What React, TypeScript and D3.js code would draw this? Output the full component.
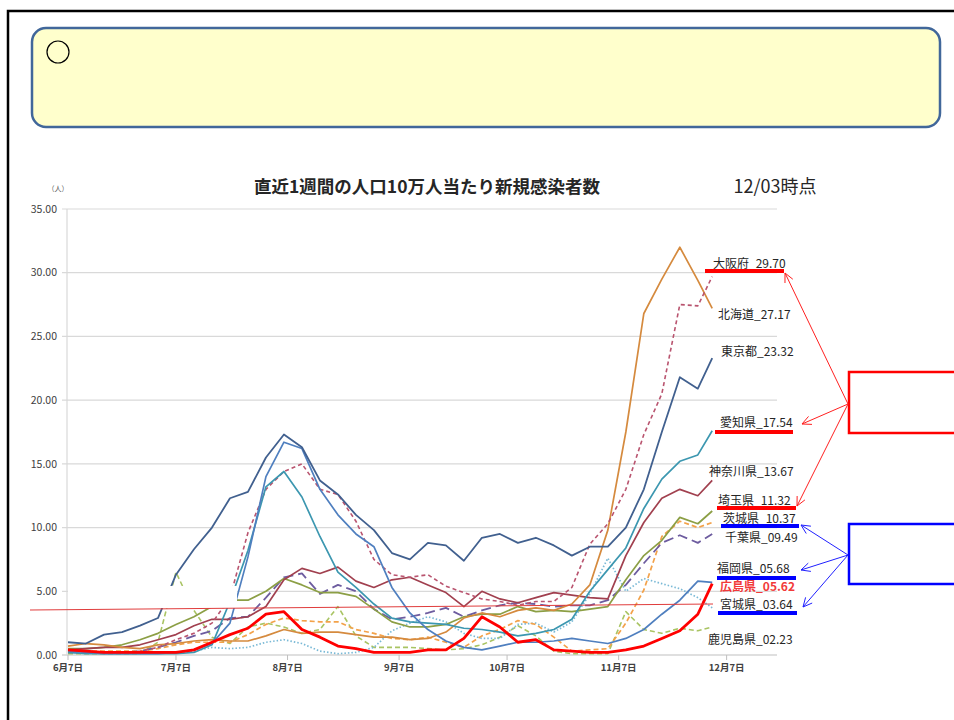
import React from 'react';
import * as d3 from 'd3';

// days counted from 6/7, one sample every 5 days up to 12/3
const days = [0, 5, 10, 15, 20, 25, 30, 35, 40, 45, 50, 55, 60, 65, 70, 75, 80, 85, 90, 95, 100, 105, 110, 115, 120, 125, 130, 135, 140, 145, 150, 155, 160, 165, 170, 175, 179];

const tokyo = [1.0, 0.9, 1.6, 1.8, 2.3, 2.9, 6.3, 8.3, 10.0, 12.3, 12.8, 15.5, 17.3, 16.3, 13.7, 12.6, 11.0, 9.8, 8.0, 7.5, 8.8, 8.6, 7.4, 9.2, 9.5, 8.8, 9.2, 8.6, 7.8, 8.5, 8.5, 10.0, 13.0, 17.5, 21.8, 20.9, 23.3];
const kanagawa = [0.4, 0.5, 0.6, 0.6, 0.8, 1.2, 1.6, 2.3, 2.8, 2.8, 3.0, 3.8, 5.9, 6.8, 6.4, 6.9, 5.8, 5.3, 5.9, 6.1, 5.5, 4.9, 3.8, 5.0, 4.4, 4.1, 4.5, 4.9, 4.7, 4.5, 4.4, 7.8, 10.4, 12.3, 13.0, 12.5, 13.7];
const saitama = [0.5, 0.5, 0.6, 0.8, 1.2, 1.7, 2.4, 3.0, 3.8, 4.3, 4.3, 5.0, 6.0, 5.5, 4.9, 4.9, 4.6, 3.6, 2.6, 2.2, 2.2, 2.4, 3.0, 3.2, 3.2, 3.8, 3.4, 3.5, 3.4, 3.6, 3.8, 5.9, 7.8, 9.0, 10.8, 10.3, 11.3];
const chiba = [0.2, 0.2, 0.2, 0.2, 0.3, 0.6, 1.0, 1.5, 1.9, 2.9, 3.0, 4.5, 6.1, 6.4, 4.8, 5.5, 5.0, 3.6, 2.8, 3.0, 3.3, 3.7, 3.0, 3.5, 3.9, 4.1, 4.0, 3.8, 3.9, 3.9, 4.3, 5.5, 7.2, 8.8, 9.4, 8.8, 9.5];
const ibaraki = [0.3, 0.3, 0.3, 0.3, 0.3, 0.5, 0.8, 1.0, 1.0, 1.0, 1.6, 2.4, 2.9, 2.7, 2.6, 2.6, 2.0, 1.7, 1.3, 1.2, 1.4, 1.0, 0.6, 1.5, 2.0, 2.7, 2.4, 1.4, 0.3, 0.4, 0.5, 2.5, 5.1, 9.3, 10.5, 10.0, 10.4];
const hokkaido = [0.7, 0.9, 0.8, 0.6, 0.5, 0.8, 0.9, 1.1, 1.2, 1.1, 1.1, 1.5, 2.0, 1.7, 1.8, 1.8, 1.6, 1.4, 1.4, 1.2, 1.3, 1.8, 2.9, 3.3, 3.0, 3.5, 3.7, 3.5, 4.0, 5.5, 9.8, 17.5, 26.8, 29.5, 32.0, 29.4, 27.2];
const osaka = [0.3, 0.2, 0.2, 0.2, 0.3, 0.6, 1.2, 1.7, 2.5, 4.5, 9.6, 13.0, 14.4, 15.0, 13.0, 12.6, 10.5, 7.5, 6.3, 6.1, 6.3, 5.4, 4.9, 4.4, 4.2, 3.9, 4.2, 4.2, 5.3, 8.7, 10.3, 13.0, 17.3, 20.5, 27.5, 27.4, 29.7];
const aichi = [0.2, 0.1, 0.1, 0.1, 0.1, 0.1, 0.1, 0.2, 0.8, 4.2, 8.2, 13.2, 14.4, 12.4, 9.3, 6.5, 5.3, 4.0, 2.9, 2.6, 2.5, 2.4, 2.1, 2.0, 1.8, 1.5, 1.7, 2.0, 2.8, 5.0, 6.7, 8.4, 11.5, 13.8, 15.2, 15.7, 17.6];
const fukuoka = [0.3, 0.2, 0.1, 0.1, 0.1, 0.1, 0.2, 0.4, 0.9, 2.5, 7.7, 14.0, 16.7, 16.2, 13.0, 11.0, 9.5, 8.5, 5.3, 3.3, 2.0, 1.1, 0.6, 0.4, 0.7, 1.0, 1.0, 1.1, 1.3, 1.1, 0.9, 1.3, 2.0, 3.2, 4.3, 5.8, 5.7];
const miyagi = [0.3, 0.2, 0.2, 0.2, 0.2, 0.2, 0.2, 0.3, 0.6, 0.5, 0.6, 1.0, 1.2, 0.9, 0.3, 0.1, 0.2, 0.6, 1.9, 2.5, 3.0, 2.6, 1.7, 1.3, 1.3, 2.4, 2.5, 1.8, 2.6, 4.8, 7.6, 5.0, 6.0, 5.6, 5.2, 4.5, 3.7];
const kagoshima = [0.1, 0.1, 0.1, 0.1, 0.1, 1.0, 6.5, 3.5, 1.4, 0.9, 2.2, 2.5, 2.2, 1.7, 2.0, 3.8, 1.5, 0.6, 0.6, 0.6, 0.5, 0.4, 0.5, 0.8, 1.4, 2.3, 1.5, 0.3, 0.1, 0.1, 0.1, 3.4, 2.0, 1.7, 2.1, 1.9, 2.2];
const hiroshima = [0.4, 0.3, 0.2, 0.2, 0.2, 0.2, 0.2, 0.4, 1.0, 1.6, 2.1, 3.2, 3.4, 2.0, 1.4, 0.7, 0.5, 0.2, 0.2, 0.2, 0.4, 0.4, 1.3, 3.0, 2.2, 1.0, 1.2, 0.4, 0.3, 0.2, 0.2, 0.4, 0.7, 1.3, 1.9, 3.2, 5.6];

const monthDays = [0, 30, 61, 92, 122, 153, 183];
const monthLabels = ['6月7日', '7月7日', '8月7日', '9月7日', '10月7日', '11月7日', '12月7日'];
const yTicks = [0, 5, 10, 15, 20, 25, 30, 35];

const endLabels = ['大阪府_29.70', '北海道_27.17', '東京都_23.32', '愛知県_17.54', '神奈川県_13.67', '埼玉県_11.32', '茨城県_10.37', '千葉県_09.49', '福岡県_05.68', '広島県_05.62', '宮城県_03.64', '鹿児島県_02.23'];

// drawing order and line styles
const series = [
  { values: kagoshima, color: '#a9c463', dash: '5,3', w: 1.6 },
  { values: miyagi, color: '#79b9d6', dash: '1.5,2', w: 1.7 },
  { values: ibaraki, color: '#f3a24a', dash: '5,3', w: 1.7 },
  { values: chiba, color: '#6d5c9f', dash: '10,5', w: 1.8 },
  { values: saitama, color: '#8c9f45', dash: null, w: 1.7 },
  { values: kanagawa, color: '#a1404f', dash: null, w: 1.7 },
  { values: hokkaido, color: '#d58a3e', dash: null, w: 1.7 },
  { values: osaka, color: '#b9546f', dash: '4,3', w: 1.6 },
  { values: aichi, color: '#3c97b0', dash: null, w: 1.7 },
  { values: fukuoka, color: '#4f7fbf', dash: null, w: 1.7 },
  { values: tokyo, color: '#41608f', dash: null, w: 1.8 },
  { values: hiroshima, color: '#ff0000', dash: null, w: 2.8 },
];

// manual annotation layout (start x, centre y)
const labelPos = [[713, 264], [718, 315], [721, 352], [720, 423], [709, 472], [718, 501], [723, 519], [725, 538], [717, 569], [720, 587], [720, 605], [708, 640]];
const redBars = [[705, 784, 271], [715, 793, 432], [717, 796, 508]];
const blueBars = [[721, 799, 526], [717, 796, 578], [718, 797, 613]];

const FONT = "'Noto Sans CJK JP', 'Noto Sans', sans-serif";

function arrowPath(x1: number, y1: number, x2: number, y2: number) {
  const a = Math.atan2(y2 - y1, x2 - x1);
  const L = 10, s = 0.45;
  const p1 = [x2 - L * Math.cos(a - s), y2 - L * Math.sin(a - s)];
  const p2 = [x2 - L * Math.cos(a + s), y2 - L * Math.sin(a + s)];
  return `M${x1},${y1}L${x2},${y2}M${p1[0]},${p1[1]}L${x2},${y2}L${p2[0]},${p2[1]}`;
}

export default function App() {
  const x = d3.scaleLinear().domain([0, 197]).range([68, 777]);
  const y = d3.scaleLinear().domain([0, 35]).range([655, 209]);

  const line = d3.line<number>()
    .x((_, i) => x(days[i]))
    .y(d => y(d))
    .curve(d3.curveLinear);

  return (
    <svg width={954} height={720} style={{ position: 'absolute', left: 0, top: 0, background: '#fff' }} fontFamily={FONT}>
      {/* slide frame */}
      <rect x={8} y={11} width={980} height={740} fill="none" stroke="#000" strokeWidth={2.5} />
      <rect x={32} y={28} width={908} height={99} rx={14} fill="#ffffcc" stroke="#41679a" strokeWidth={2.5} />
      <circle cx={58} cy={52} r={11} fill="none" stroke="#000" strokeWidth={1.2} />

      {/* titles */}
      <text x={427} y={187} textAnchor="middle" dy="0.35em" fontSize={17.5} fontWeight="bold" fill="#262626">直近1週間の人口10万人当たり新規感染者数</text>
      <text x={775} y={187} textAnchor="middle" dy="0.35em" fontSize={18} fill="#262626">12/03時点</text>
      <text x={58} y={189} textAnchor="middle" dy="0.35em" fontSize={7} fill="#595959">（人）</text>

      {/* grid */}
      {yTicks.map(t => (
        <g key={t}>
          <line x1={62} x2={777} y1={y(t)} y2={y(t)} stroke={t === 0 ? '#bfbfbf' : '#d9d9d9'} strokeWidth={1.2} />
          <text x={57} y={y(t)} textAnchor="end" dy="0.35em" fontSize={10.5} fill="#404040">{t.toFixed(2)}</text>
        </g>
      ))}
      <line x1={67} x2={67} y1={209} y2={655} stroke="#d9d9d9" strokeWidth={1.2} />
      {monthDays.map((d, i) => (
        <g key={d}>
          <line x1={x(d)} x2={x(d)} y1={655} y2={660} stroke="#bfbfbf" />
          <text x={x(d)} y={668} textAnchor="middle" dy="0.35em" fontSize={9.5} fontWeight="bold" fill="#404040">{monthLabels[i]}</text>
        </g>
      ))}

      {/* series */}
      {series.map((s, i) => (
        <path key={i} d={line(s.values) || ''} fill="none" stroke={s.color} strokeWidth={s.w}
          strokeDasharray={s.dash || undefined} strokeLinejoin="round" />
      ))}

      {/* masked region and reference line */}
      <rect x={68} y={586} width={169} height={22} fill="#fff" />
      <line x1={30} y1={610} x2={713} y2={604} stroke="#e03c3c" strokeWidth={1} />

      {/* end labels */}
      {endLabels.map((t, i) => (
        <text key={t} x={labelPos[i][0]} y={labelPos[i][1]} dy="0.35em" fontSize={12}
          fill={i === 9 ? '#f23a3a' : '#262626'} fontWeight={i === 9 ? 'bold' : 'normal'}>{t}</text>
      ))}
      {redBars.map((b, i) => <line key={'r' + i} x1={b[0]} x2={b[1]} y1={b[2]} y2={b[2]} stroke="#ff0000" strokeWidth={4} />)}
      {blueBars.map((b, i) => <line key={'b' + i} x1={b[0]} x2={b[1]} y1={b[2]} y2={b[2]} stroke="#0000ff" strokeWidth={4} />)}

      {/* callout boxes */}
      <rect x={849} y={372} width={120} height={61} fill="none" stroke="#ff0000" strokeWidth={2.5} />
      <rect x={849} y={524} width={120} height={60} fill="none" stroke="#0000ff" strokeWidth={2.5} />
      <path d={arrowPath(848, 404, 785, 273)} fill="none" stroke="#ff2020" strokeWidth={1} />
      <path d={arrowPath(848, 404, 802, 424)} fill="none" stroke="#ff2020" strokeWidth={1} />
      <path d={arrowPath(848, 404, 797, 506)} fill="none" stroke="#ff2020" strokeWidth={1} />
      <path d={arrowPath(848, 555, 801, 525)} fill="none" stroke="#2020ff" strokeWidth={1} />
      <path d={arrowPath(848, 555, 801, 570)} fill="none" stroke="#2020ff" strokeWidth={1} />
      <path d={arrowPath(848, 555, 803, 607)} fill="none" stroke="#2020ff" strokeWidth={1} />
    </svg>
  );
}
